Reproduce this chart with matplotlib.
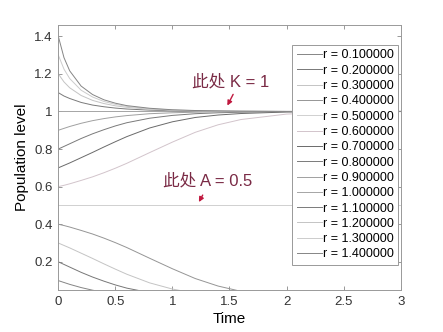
import matplotlib.pyplot as plt

# time points
t_vals = [0, 0.05, 0.1, 0.2, 0.3, 0.4, 0.5, 0.6, 0.8, 1.0, 1.2, 1.4, 1.6, 2.0, 2.5, 3.0]

# population level of each run, one list per r
pop_r01 = [0.100, 0.090, 0.080, 0.063, 0.049, 0.038, 0.029, 0.022, 0.012, 0.007, 0.004, 0.002, 0.001, 0.000, 0.000, 0.000]
pop_r02 = [0.200, 0.186, 0.172, 0.144, 0.119, 0.097, 0.077, 0.060, 0.036, 0.021, 0.012, 0.007, 0.004, 0.001, 0.000, 0.000]
pop_r03 = [0.300, 0.287, 0.274, 0.246, 0.218, 0.189, 0.161, 0.134, 0.088, 0.055, 0.032, 0.019, 0.011, 0.003, 0.001, 0.000]
pop_r04 = [0.400, 0.393, 0.385, 0.367, 0.348, 0.326, 0.302, 0.276, 0.219, 0.163, 0.111, 0.071, 0.043, 0.014, 0.003, 0.001]
pop_r05 = [0.5] * 16
pop_r06 = [0.600, 0.607, 0.615, 0.633, 0.652, 0.674, 0.698, 0.724, 0.781, 0.837, 0.889, 0.929, 0.957, 0.986, 0.997, 0.999]
pop_r07 = [0.700, 0.713, 0.726, 0.754, 0.782, 0.811, 0.839, 0.866, 0.912, 0.945, 0.968, 0.981, 0.989, 0.997, 0.999, 1.000]
pop_r08 = [0.800, 0.814, 0.828, 0.856, 0.881, 0.903, 0.923, 0.940, 0.964, 0.979, 0.988, 0.993, 0.996, 0.999, 1.000, 1.000]
pop_r09 = [0.900, 0.910, 0.920, 0.937, 0.951, 0.962, 0.971, 0.978, 0.988, 0.993, 0.996, 0.998, 0.999, 1.000, 1.000, 1.000]
pop_r10 = [1.0] * 16
pop_r11 = [1.100, 1.082, 1.069, 1.048, 1.034, 1.025, 1.018, 1.013, 1.007, 1.004, 1.002, 1.001, 1.001, 1.000, 1.000, 1.000]
pop_r12 = [1.200, 1.157, 1.126, 1.085, 1.059, 1.042, 1.030, 1.022, 1.012, 1.006, 1.003, 1.002, 1.001, 1.000, 1.000, 1.000]
pop_r13 = [1.300, 1.225, 1.175, 1.113, 1.077, 1.053, 1.038, 1.027, 1.014, 1.008, 1.004, 1.002, 1.001, 1.000, 1.000, 1.000]
pop_r14 = [1.400, 1.286, 1.216, 1.135, 1.090, 1.062, 1.044, 1.031, 1.017, 1.009, 1.005, 1.003, 1.001, 1.000, 1.000, 1.000]

r_vals = [0.1, 0.2, 0.3, 0.4, 0.5, 0.6, 0.7, 0.8, 0.9, 1.0, 1.1, 1.2, 1.3, 1.4]
curves = [pop_r01, pop_r02, pop_r03, pop_r04, pop_r05, pop_r06, pop_r07,
          pop_r08, pop_r09, pop_r10, pop_r11, pop_r12, pop_r13, pop_r14]

colors = ['#858585', '#777777', '#c4c4c4', '#959595', '#d0d0d0', '#d2c4cb', '#6a6a6a',
          '#7a7a7a', '#a0a0a0', '#a5a5a5', '#7a7a7a', '#c4c4c4', '#cccccc', '#858585']

plt.rcParams['font.family'] = ['Liberation Sans', 'Noto Sans CJK SC']

fig = plt.figure(figsize=(4.43, 3.32), dpi=100)
ax = fig.add_axes([0.1316, 0.1265, 0.9045 - 0.1316, 0.9247 - 0.1265])

for r, pop, c in zip(r_vals, curves, colors):
    ax.plot(t_vals, pop, color=c, linewidth=0.7, label='r = %f' % r)

ax.set_xlim(0, 3)
ax.set_ylim(0.05, 1.46)
ax.set_xticks([0, 0.5, 1, 1.5, 2, 2.5, 3])
ax.set_xticklabels(['0', '0.5', '1', '1.5', '2', '2.5', '3'])
ax.set_yticks([0.2, 0.4, 0.6, 0.8, 1, 1.2, 1.4])
ax.set_yticklabels(['0.2', '0.4', '0.6', '0.8', '1', '1.2', '1.4'])
ax.tick_params(direction='in', length=3, width=0.6, top=True, right=True,
               labelsize=9.5, colors='#888888', labelcolor='#333333', pad=4)
for s in ax.spines.values():
    s.set_color('#999999')
    s.set_linewidth(0.7)

ax.set_xlabel('Time', fontsize=11, labelpad=3)
ax.set_ylabel('Population level', fontsize=11, labelpad=4)

# annotations
ax.text(1.172, 1.157, '此处 K = 1', fontsize=12, color='#7a2a45', va='center', ha='left')
ax.annotate('', xy=(1.470, 1.018), xytext=(1.543, 1.104),
            arrowprops=dict(arrowstyle='-|>', color='#c0193f', lw=1.0, mutation_scale=7))
ax.text(0.918, 0.632, '此处 A = 0.5', fontsize=12, color='#7a2a45', va='center', ha='left')
ax.annotate('', xy=(1.220, 0.505), xytext=(1.277, 0.568),
            arrowprops=dict(arrowstyle='-|>', color='#c0193f', lw=1.0, mutation_scale=7))

leg = ax.legend(loc='upper left', bbox_to_anchor=(292.3 / 443, 1 - 45 / 332),
                bbox_transform=fig.transFigure, fontsize=9, frameon=True,
                fancybox=False, framealpha=1, edgecolor='#999999',
                handlelength=2.0, handletextpad=0.1, labelspacing=0.265,
                borderpad=0.35, borderaxespad=0)
leg.get_frame().set_linewidth(0.7)

plt.savefig('out.png', dpi=100)
